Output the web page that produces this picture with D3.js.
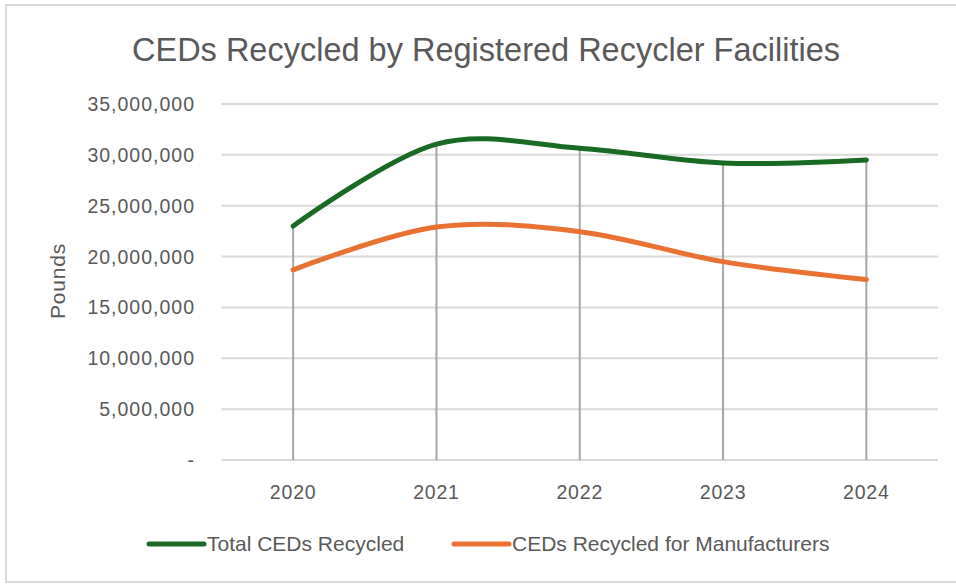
<!DOCTYPE html>
<html>
<head>
<meta charset="utf-8">
<script src="https://cdnjs.cloudflare.com/ajax/libs/d3/7.8.5/d3.min.js"></script>
<style>
  body { margin: 0; background: #fff; }
  svg { display: block; }
</style>
</head>
<body>
<script>
// data
var years = ["2020", "2021", "2022", "2023", "2024"];
var totalRecycled = [23000000, 31050000, 30650000, 29200000, 29500000];
var mfrRecycled = [18700000, 22900000, 22450000, 19500000, 17750000];
var yTicks = [0, 5000000, 10000000, 15000000, 20000000, 25000000, 30000000, 35000000];
var seriesNames = ["Total CEDs Recycled", "CEDs Recycled for Manufacturers"];
var seriesColors = ["#196b24", "#e97132"];

var W = 956, H = 585;
var plot = {left: 221.5, right: 938, top: 104, bottom: 460};
var narrow = "'Liberation Sans Narrow', 'Liberation Sans', Arial, sans-serif";
var sans = "'Liberation Sans', Arial, sans-serif";
var textColor = "#595959";

var svg = d3.select("body").append("svg")
    .attr("width", W)
    .attr("height", H);

// chart border
svg.append("rect")
    .attr("x", 6).attr("y", 5)
    .attr("width", 960).attr("height", 577)
    .attr("fill", "#fff")
    .attr("stroke", "#d9d9d9")
    .attr("stroke-width", 2);

var x = d3.scaleBand()
    .domain(years)
    .range([plot.left, plot.right])
    .padding(0);
var y = d3.scaleLinear()
    .domain([0, 35000000])
    .range([plot.bottom, plot.top]);

function cx(d) { return x(d) + x.bandwidth() / 2; }

// gridlines
svg.append("g")
  .selectAll("line")
  .data(yTicks)
  .enter().append("line")
    .attr("x1", plot.left).attr("x2", plot.right)
    .attr("y1", function(d) { return y(d); })
    .attr("y2", function(d) { return y(d); })
    .attr("stroke", "#d9d9d9")
    .attr("stroke-width", 2);

// y axis labels
var fmt = d3.format(",");
svg.append("g")
  .selectAll("text")
  .data(yTicks)
  .enter().append("text")
    .attr("x", 195)
    .attr("y", function(d) { return y(d) + 7; })
    .attr("text-anchor", "end")
    .attr("font-family", sans)
    .attr("font-size", 19.5)
    .attr("letter-spacing", 1)
    .attr("fill", textColor)
    .text(function(d) { return d === 0 ? "-" : fmt(d); });

// x axis labels
svg.append("g")
  .selectAll("text")
  .data(years)
  .enter().append("text")
    .attr("x", cx)
    .attr("y", 499)
    .attr("text-anchor", "middle")
    .attr("font-family", sans)
    .attr("font-size", 19.5)
    .attr("letter-spacing", 0.8)
    .attr("fill", textColor)
    .text(function(d) { return d; });

// drop lines
svg.append("g")
  .selectAll("line")
  .data(years)
  .enter().append("line")
    .attr("x1", cx).attr("x2", cx)
    .attr("y1", function(d, i) { return y(Math.max(totalRecycled[i], mfrRecycled[i])); })
    .attr("y2", y(0))
    .attr("stroke", "#a6a6a6")
    .attr("stroke-width", 2);

// series lines
var line = d3.line()
    .x(function(d, i) { return cx(years[i]); })
    .y(function(d) { return y(d); })
    .curve(d3.curveCardinal.tension(0));

[totalRecycled, mfrRecycled].forEach(function(s, k) {
  svg.append("path")
      .datum(s)
      .attr("d", line)
      .attr("fill", "none")
      .attr("stroke", seriesColors[k])
      .attr("stroke-width", 5)
      .attr("stroke-linecap", "round")
      .attr("stroke-linejoin", "round");
});

// title
svg.append("text")
    .attr("x", 486)
    .attr("y", 61)
    .attr("text-anchor", "middle")
    .attr("font-family", narrow)
    .attr("font-size", 32.5)
    .attr("fill", textColor)
    .text("CEDs Recycled by Registered Recycler Facilities");

// y axis title
svg.append("text")
    .attr("transform", "translate(65,281) rotate(-90)")
    .attr("text-anchor", "middle")
    .attr("font-family", sans)
    .attr("font-size", 21)
    .attr("letter-spacing", 0.8)
    .attr("fill", textColor)
    .text("Pounds");

// legend
var legendX = [149, 454];
seriesNames.forEach(function(name, k) {
  var g = svg.append("g").attr("transform", "translate(" + legendX[k] + ",544)");
  g.append("line")
      .attr("x1", 0).attr("x2", 55)
      .attr("stroke", seriesColors[k])
      .attr("stroke-width", 5)
      .attr("stroke-linecap", "round");
  g.append("text")
      .attr("x", 58)
      .attr("y", 7)
      .attr("font-family", narrow)
      .attr("font-size", 21)
      .attr("fill", textColor)
      .text(name);
});
</script>
</body>
</html>
